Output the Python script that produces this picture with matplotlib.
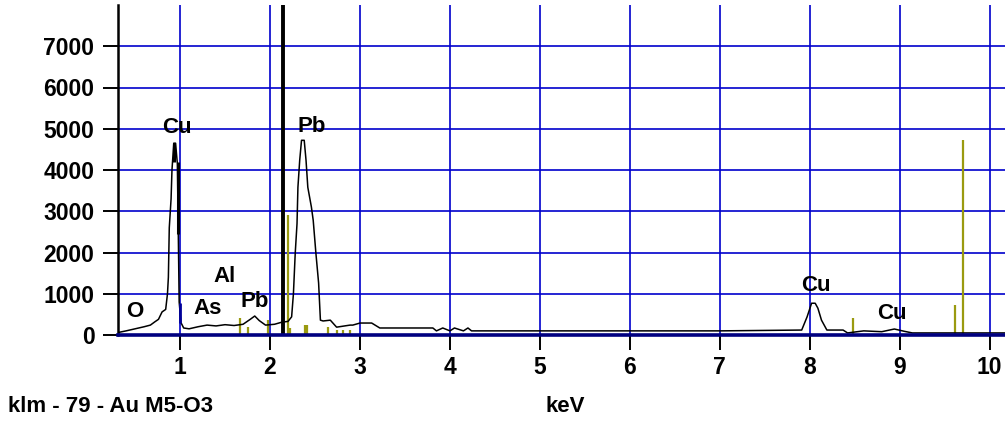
import matplotlib.pyplot as plt

plt.rcParams['font.family'] = ['Liberation Sans', 'DejaVu Sans']
plt.rcParams['font.weight'] = 'bold'

# EDS spectrum (keV, counts)
kev = [0.31, 0.40, 0.50, 0.60, 0.67, 0.72, 0.76, 0.80, 0.84, 0.86, 0.87, 0.88,
       0.90, 0.91, 0.93, 0.95, 0.97, 0.98, 0.99, 1.01, 1.04, 1.10, 1.20, 1.30,
       1.40, 1.50, 1.60, 1.70, 1.78, 1.83, 1.88, 1.95, 2.05, 2.13, 2.20, 2.24,
       2.26, 2.28, 2.30, 2.31, 2.33, 2.35, 2.38, 2.40, 2.42, 2.46, 2.48, 2.51,
       2.54, 2.56, 2.59, 2.67, 2.74, 2.89, 2.92, 3.00, 3.13, 3.22, 3.81, 3.85,
       3.92, 4.00, 4.05, 4.15, 4.20, 4.24, 5.0, 6.0, 7.0, 7.91, 7.97, 8.02,
       8.06, 8.09, 8.13, 8.19, 8.37, 8.42, 8.60, 8.80, 8.94, 9.05, 9.14, 9.5,
       10.17]
counts = [60, 100, 150, 200, 240, 320, 380, 560, 620, 1000, 1400, 2600,
          3300, 4000, 4650, 4650, 4150, 2500, 800, 300, 170, 150, 200, 240,
          220, 250, 230, 260, 380, 460, 350, 240, 260, 310, 330, 440,
          1000, 1980, 2700, 3580, 4240, 4720, 4720, 4240, 3580, 3100, 2780, 1980,
          1260, 360, 340, 360, 190, 240, 240, 290, 290, 170, 170, 100,
          170, 100, 170, 100, 170, 100, 100, 100, 100, 120, 440, 770,
          770, 650, 360, 120, 120, 50, 100, 80, 145, 90, 50, 50,
          50]

# KLM marker lines (olive)
marker_kev = [1.67, 1.76, 1.98, 2.20, 2.22, 2.39, 2.41, 2.64, 2.74, 2.81, 2.89,
              8.48, 9.61, 9.70]
marker_h = [410, 190, 360, 2900, 170, 240, 240, 190, 120, 120, 120,
            410, 730, 4720]

# Cu L marks drawn over the peak: black (keV, low, high) and navy one
cu_mark_kev = [0.93, 0.975]
cu_mark_lo = [4200, 2450]
cu_mark_hi = [4650, 4200]
navy_mark_kev = [1.0]
navy_mark_lo = [290]
navy_mark_hi = [780]

cursor_kev = 2.144

labels = ['Cu', 'Pb', 'Al', 'As', 'Pb', 'O', 'Cu', 'Cu']
label_x = [0.967, 2.467, 1.49, 1.31, 1.83, 0.50, 8.07, 8.91]
label_y = [5030, 5060, 1430, 650, 820, 560, 1190, 530]

xticks = list(range(1, 11))
yticks = list(range(0, 8000, 1000))

fig = plt.figure(figsize=(10.05, 4.24), dpi=100)
ax = fig.add_axes([118 / 1005, 89 / 424, 1 - 118 / 1005, 330 / 424])

ax.set_xlim(0.31, 10.17)
ax.set_ylim(0, 8000)

for x in xticks:
    ax.axvline(x, color='#0000cc', lw=1.2, zorder=1)
for y in yticks[1:]:
    ax.axhline(y, color='#0000cc', lw=1.2, zorder=1)

ax.vlines(marker_kev, 0, marker_h, color='#9a9a10', lw=1.6, zorder=2)
ax.plot(kev, counts, color='black', lw=1.1, zorder=3)
ax.vlines(cu_mark_kev, cu_mark_lo, cu_mark_hi, color='black', lw=2.2, zorder=3)
ax.vlines(navy_mark_kev, navy_mark_lo, navy_mark_hi, color='#000099', lw=2.0, zorder=3)
ax.axvline(cursor_kev, color='black', lw=2.8, zorder=4)
ax.axhline(0, color='#000080', lw=2.6, zorder=5, clip_on=False)

for t, x, y in zip(labels, label_x, label_y):
    ax.text(x, y, t, ha='center', va='center', fontsize=16, fontweight='bold', zorder=6)

ax.set_xticks(xticks)
ax.set_yticks(yticks)
ax.tick_params(axis='both', direction='out', length=11, width=1.4, color='black',
               labelsize=16.5, pad=4)
ax.tick_params(axis='y', length=11, pad=6)
for s in ['top', 'right', 'bottom']:
    ax.spines[s].set_visible(False)
ax.spines['left'].set_linewidth(1.8)
ax.grid(False)

fig.text(8 / 1005, 1 - 407 / 424, 'klm - 79 - Au M5-O3', ha='left', va='center',
         fontsize=16, fontweight='bold')
fig.text(565 / 1005, 1 - 407 / 424, 'keV', ha='center', va='center',
         fontsize=16, fontweight='bold')

fig.savefig('out.png', dpi=100)
